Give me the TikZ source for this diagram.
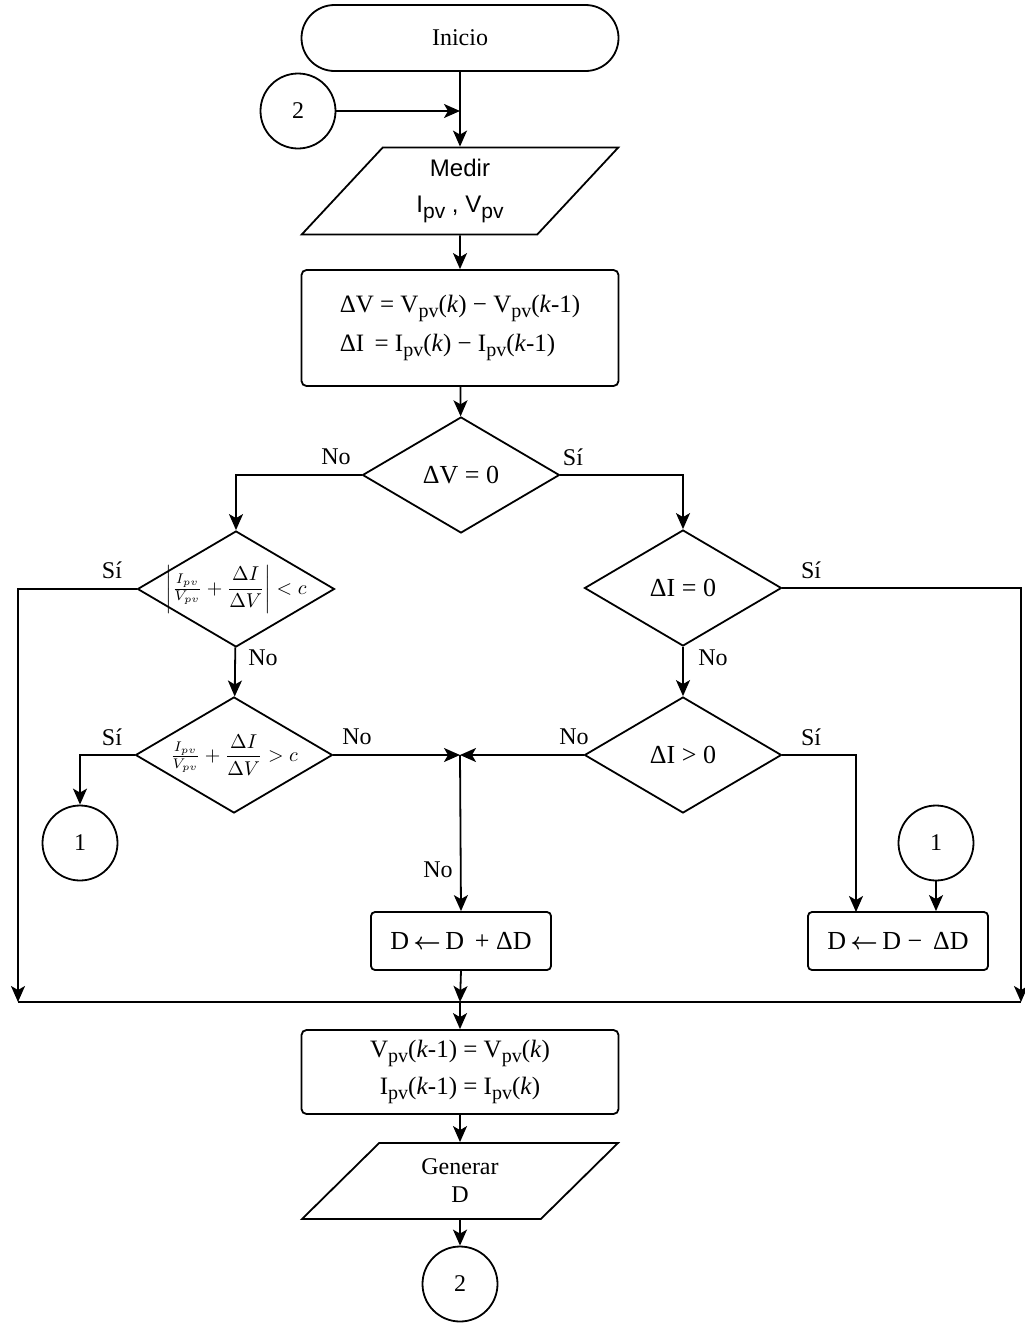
\documentclass[tikz,border=0pt]{standalone}
\usepackage{fontspec}
\setmainfont{Liberation Serif}
\newfontfamily\arialfont{Liberation Sans}
\usepackage{amsmath}
\usetikzlibrary{arrows.meta, positioning, shapes.geometric, calc}

\newcommand{\pvsub}{\raisebox{-0.5ex}{\fontsize{10}{10}\selectfont pv}}

\begin{document}
\begin{tikzpicture}[
    x=0.5pt, y=-0.5pt,
    >={Stealth[length=8pt, width=7pt, inset=2pt]},
    line width=0.9pt,
    term/.style={draw, rectangle, rounded corners=16.5pt, minimum width=158.5pt, minimum height=33pt, font=\fontsize{12}{14}\selectfont},
    io/.style={draw, trapezium, trapezium stretches=true, minimum width=158.5pt, inner sep=0pt, align=center},
    proc/.style={draw, rectangle, rounded corners=2.5pt, minimum width=158.5pt, align=center},
    small/.style={draw, rectangle, rounded corners=2pt, minimum width=90pt, minimum height=29pt, font=\fontsize{13}{15}\selectfont},
    decision/.style={draw, diamond, inner sep=0pt, minimum width=98.5pt, minimum height=58pt, font=\fontsize{13}{15}\selectfont},
    conn/.style={draw, circle, minimum size=37.5pt, inner sep=0pt, font=\fontsize{12}{14}\selectfont},
    lbl/.style={inner sep=0pt, font=\fontsize{12}{14}\selectfont},
    arrow/.style={->}
]
\useasboundingbox (0,0) rectangle (1024,1323);

% Start and measuring
\node[term] (inicio) at (460,38) {Inicio};
\node[conn] (c2top) at (298,111) {2};
\node[io, trapezium left angle=54, trapezium right angle=126, minimum height=43.5pt,
      font=\arialfont\fontsize{12}{18}\selectfont] (medir) at (460,191)
    {Medir\\I\raisebox{-0.4ex}{\fontsize{10.5}{10}\selectfont pv} , V\raisebox{-0.4ex}{\fontsize{10.5}{10}\selectfont pv}};
\node[proc, minimum height=58pt, align=left, font=\fontsize{12.5}{19.5}\selectfont] (calc) at (460,328)
    {ΔV = V\pvsub(\textit{k}) − V\pvsub(\textit{k}-1)\\ΔI\, = I\pvsub(\textit{k}) − I\pvsub(\textit{k}-1)};
\coordinate (m1) at (460,111);

% Decisions
\node[decision] (dv) at (461,475) {\makebox[0pt]{ΔV = 0}};
\node[decision] (q1) at (236,589)
    {\makebox[0pt]{\fontsize{10}{11}\selectfont$\left|\tfrac{I_{pv}}{V_{pv}}+\dfrac{\Delta I}{\Delta V}\right|<c$}};
\node[decision] (q2) at (234,755)
    {\makebox[0pt]{\fontsize{10}{11}\selectfont$\tfrac{I_{pv}}{V_{pv}}+\dfrac{\Delta I}{\Delta V}>c$}};
\node[decision] (di0) at (683,588) {\makebox[0pt]{ΔI = 0}};
\node[decision] (digt) at (683,755) {\makebox[0pt]{ΔI > 0}};

% Connectors 1
\node[conn] (c1l) at (80,843) {1};
\node[conn] (c1r) at (936,843) {1};

% Duty cycle updates
\node[small] (inc) at (461,941) {D\,$\boldsymbol{\leftarrow}$\,D\, + ΔD};
\node[small] (dec) at (898,941) {D\,$\boldsymbol{\leftarrow}$\,D − \,ΔD};

\coordinate (mid) at (460,755);
\coordinate (bl) at (18,1002);
\coordinate (br) at (1021,1002);
\coordinate (jb) at (460,1002);
\coordinate (decin) at (856,912);

% Update and output
\node[proc, minimum height=42pt, font=\fontsize{12.5}{18.5}\selectfont] (upd) at (460,1072)
    {V\pvsub(\textit{k}-1) = V\pvsub(\textit{k})\\I\pvsub(\textit{k}-1) = I\pvsub(\textit{k})};
\node[io, trapezium left angle=50, trapezium right angle=130, minimum height=38pt,
      font=\fontsize{12}{14}\selectfont] (gen) at (460,1181) {Generar\\D};
\node[conn] (c2bot) at (460,1284) {2};

% Labels
\node[lbl] (l1) at (336,457) {No};
\node[lbl] (l2) at (573,457) {Sí};
\node[lbl] (l3) at (112,570) {Sí};
\node[lbl] (l4) at (811,570) {Sí};
\node[lbl] (l5) at (263,658) {No};
\node[lbl] (l6) at (713,658) {No};
\node[lbl] (l7) at (112,737) {Sí};
\node[lbl] (l8) at (357,737) {No};
\node[lbl] (l9) at (574,737) {No};
\node[lbl] (l10) at (811,737) {Sí};
\node[lbl] (l11) at (438,870) {No};

% Arrows
\draw[arrow] (inicio) -- (medir);
\draw[arrow] (c2top) -- (m1);
\draw[arrow] (medir) -- (calc);
\draw[arrow] (calc) -- (dv);
\draw[arrow] (dv.west) -| (q1.north);
\draw[arrow] (dv.east) -| (di0.north);
\draw[arrow] (q1.west) -| (bl);
\draw[arrow] (di0.east) -| (br);
\draw (bl) -- (br);
\draw[arrow] (q1) -- (q2);
\draw[arrow] (di0) -- (digt);
\draw[arrow] (q2.west) -| (c1l.north);
\draw[arrow] (q2.east) -- (mid);
\draw[arrow] (digt.west) -- (mid);
\draw[arrow] (mid) -- (inc.north);
\draw[arrow] (digt.east) -| (decin);
\draw[arrow] (c1r.south) -- (c1r.south |- dec.north);
\draw[arrow] (inc.south) -- (jb);
\draw[arrow] (jb) -- (upd.north);
\draw[arrow] (upd) -- (gen);
\draw[arrow] (gen) -- (c2bot);

\end{tikzpicture}
\end{document}
